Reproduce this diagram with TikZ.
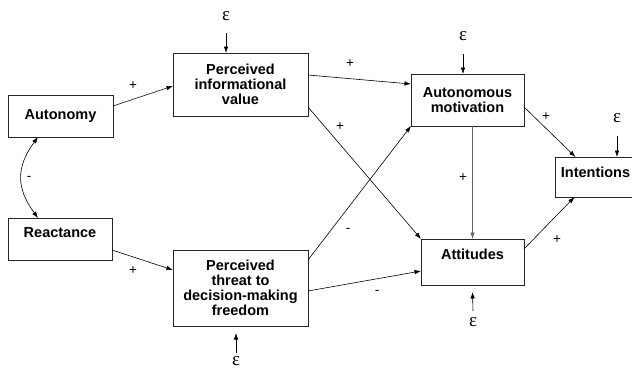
\documentclass[tikz,border=0pt]{standalone}
\usepackage{fontspec}
\setmainfont{Liberation Sans}
\newfontfamily\epsfont{Liberation Serif}
\usetikzlibrary{arrows.meta}
\begin{document}
\begin{tikzpicture}[x=1pt,y=-1pt,
  box/.style={draw=black!85,line width=0.8pt,inner sep=0pt,outer sep=0pt,align=center,
    font=\fontsize{14.5}{15}\selectfont\bfseries},
  conn/.style={line width=0.6pt,-{Latex[length=6.5pt,width=4.5pt]}},
  eps/.style={font=\epsfont\fontsize{19}{19}\selectfont,inner sep=0pt},
  sign/.style={font=\fontsize{13.5}{13.5}\selectfont,inner sep=0pt}]
\useasboundingbox (0,0) rectangle (632,373);
% boxes
\node[box,minimum width=105,minimum height=42] (aut) at (60.5,116) {Autonomy};
\node[box,minimum width=104,minimum height=42] (rea) at (60,239) {Reactance\\[-2pt]\mbox{}};
\node[box,minimum width=135,minimum height=63] (piv) at (240.5,84.5) {Perceived\\informational\\value};
\node[box,minimum width=135,minimum height=76] (ptdf) at (240.5,288) {Perceived\\threat to\\decision-making\\freedom};
\node[box,minimum width=113,minimum height=52] (am) at (467.5,100) {Autonomous\\motivation};
\node[box,minimum width=103,minimum height=46] (att) at (472.5,262) {Attitudes\\[1pt]\mbox{}};
\node[box,minimum width=81,minimum height=40] (int) at (595.5,177) {Intentions\\[-6pt]\mbox{}};
% error terms
\node[eps] (e1) at (226,16) {ε};
\node[eps] (e2) at (463,36) {ε};
\node[eps] (e3) at (617,118) {ε};
\node[eps] (e4) at (236,361) {ε};
\node[eps] (e5) at (473,322) {ε};
\draw[conn] ([yshift=-17pt]e1.center) -- ([xshift=-14.5pt]piv.north);
\draw[conn] ([yshift=-18pt]e2.center) -- ([xshift=-4.5pt]am.north);
\draw[conn] ([yshift=-18pt]e3.center) -- ([xshift=21.5pt]int.north);
\draw[conn] ([yshift=8pt]e4.center) -- ([xshift=-4.5pt,yshift=-7pt]ptdf.south);
\draw[conn] ([yshift=11pt]e5.center) -- ([yshift=-7pt]att.south);
% paths
\draw[conn] ([yshift=10pt]aut.east) -- ([yshift=-1.5pt]piv.west);
\draw[conn] ([yshift=-11pt]rea.east) -- ([yshift=18pt]ptdf.west);
\draw[line width=0.6pt,{Latex[length=6.5pt,width=4.5pt]}-{Latex[length=6.5pt,width=4.5pt]}]
  ([xshift=-22.5pt]aut.south) .. controls +(-22,30) and +(-22,-30) .. ([xshift=-22pt]rea.north);
\draw[conn] ([yshift=9.5pt]piv.east) -- ([yshift=16pt]am.west);
\draw[conn] ([yshift=-22.5pt]piv.east) -- (att.north west);
\draw[conn] ([yshift=28pt]ptdf.east) -- (am.south west);
\draw[conn] ([yshift=-3pt]ptdf.east) -- ([yshift=-9pt]att.west);
\draw[conn,draw=black!60] ([xshift=5pt]am.south) -- (att.north);
\draw[conn] ([yshift=-7pt]am.east) -- ([xshift=-20pt]int.north);
\draw[conn] ([yshift=13pt]att.east) -- ([xshift=-21pt]int.south);
% signs
\node[sign] at (133,86) {+};
\node[sign] at (133,271) {+};
\node[sign] at (29,178) {-};
\node[sign] at (350,64) {+};
\node[sign] at (340,127) {+};
\node[sign] at (463,178) {+};
\node[sign] at (546,117) {+};
\node[sign] at (348,230) {-};
\node[sign] at (377,292) {-};
\node[sign] at (557,240) {+};
\end{tikzpicture}
\end{document}
